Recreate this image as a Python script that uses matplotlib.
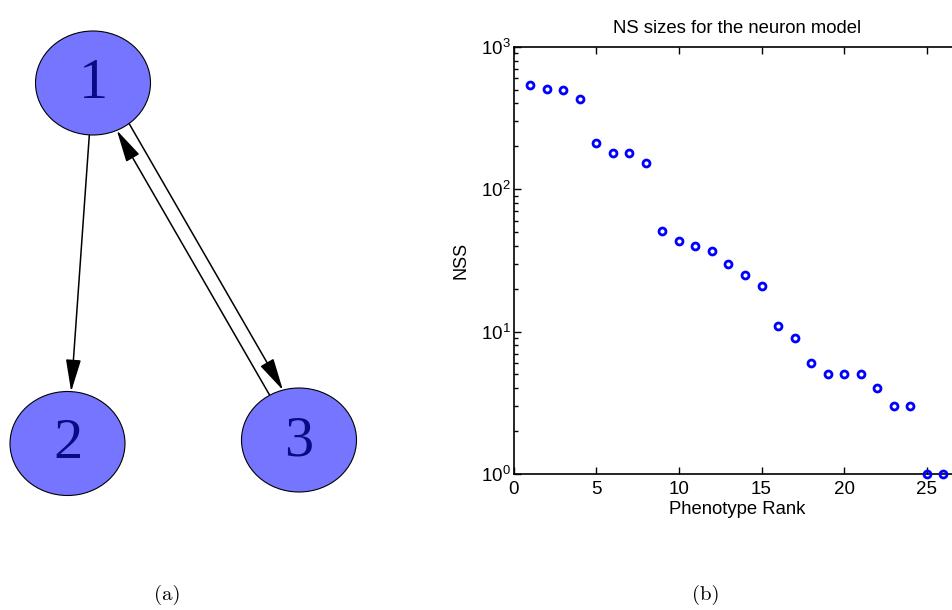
import matplotlib
matplotlib.use('Agg')
import matplotlib.pyplot as plt
import numpy as np
from matplotlib.patches import Ellipse, FancyArrowPatch

plt.rcParams['font.family'] = ['Liberation Sans', 'DejaVu Sans']

# network graph: nodes and directed edges
node_labels = ['1', '2', '3']
edges = [(1, 2), (3, 1), (1, 3)]

# neutral set sizes by phenotype rank
rank = list(range(1, 27))
nss = [537, 505, 497, 430, 210, 179, 178, 152,
       51, 43, 40, 37, 30, 25, 21,
       11, 9, 6, 5, 5, 5, 4, 3, 3, 1, 1]

W, H = 952, 610
fig = plt.figure(figsize=(W / 100, H / 100), dpi=100)

# --- (a) graph, drawn in pixel units ---
gax = fig.add_axes([0, 0, 1, 1])
gax.set_xlim(0, W)
gax.set_ylim(H, 0)
gax.axis('off')

node_pos = {1: (93, 83), 2: (67.5, 443.5), 3: (299, 440)}
node_w, node_h = 115, 104
edge_offset = {(1, 2): 0, (1, 3): 11, (3, 1): 3}


def ellipse_hits(c, p, u):
    # parameters t where p + t*u crosses the node ellipse centred at c
    a, b = node_w / 2, node_h / 2
    dx, dy = p[0] - c[0], p[1] - c[1]
    A = (u[0] / a) ** 2 + (u[1] / b) ** 2
    B = 2 * (dx * u[0] / a ** 2 + dy * u[1] / b ** 2)
    C = (dx / a) ** 2 + (dy / b) ** 2 - 1
    disc = np.sqrt(B ** 2 - 4 * A * C)
    return (-B - disc) / (2 * A), (-B + disc) / (2 * A)


for src, dst in edges:
    c0 = np.array(node_pos[src])
    c1 = np.array(node_pos[dst])
    u = (c1 - c0) / np.hypot(*(c1 - c0))
    perp = np.array([u[1], -u[0]])
    p = c0 + edge_offset[(src, dst)] * perp
    t_start = ellipse_hits(c0, p, u)[1]
    t_end = ellipse_hits(c1, p, u)[0]
    arrow = FancyArrowPatch(tuple(p + t_start * u), tuple(p + t_end * u),
                            arrowstyle='-|>,head_length=20,head_width=4.7',
                            mutation_scale=1, lw=1.1, color='k',
                            shrinkA=0, shrinkB=0, zorder=2)
    gax.add_patch(arrow)

for i, lab in enumerate(node_labels, start=1):
    x, y = node_pos[i]
    gax.add_patch(Ellipse((x, y), node_w, node_h, fc='#7575ff', ec='k',
                          lw=0.8, zorder=3))
    gax.text(x, y + 1, lab, ha='center', va='center', fontsize=42,
             family='Liberation Serif', color='#0a0a85', zorder=4)

# --- (b) NS sizes ---
ax = fig.add_axes([513.5 / W, 136 / H, 446.5 / W, 427.3 / H])
ax.semilogy(rank, nss, 'o', mfc='none', mec='b', ms=5, mew=2,
            clip_on=False, zorder=5)
ax.set_xlim(0, 27)
ax.set_ylim(1, 1000)
ax.set_xticks([0, 5, 10, 15, 20, 25])
ax.tick_params(which='both', direction='in', top=True, right=True,
               width=1, labelsize=13.5)
ax.tick_params(which='major', length=5)
ax.tick_params(which='minor', length=3)
ax.tick_params(axis='x', pad=5)
ax.tick_params(axis='y', pad=2)
for s in ax.spines.values():
    s.set_linewidth(1.2)
ax.set_title('NS sizes for the neuron model', fontsize=13.3, pad=10)
ax.set_xlabel('Phenotype Rank', fontsize=13.3, labelpad=2)
ax.set_ylabel('NSS', fontsize=13, labelpad=8)

fig.text(167 / W, 1 - 595 / H, '(a)', ha='center', va='center',
         family='cmr10', fontsize=15)
fig.text(706 / W, 1 - 595 / H, '(b)', ha='center', va='center',
         family='cmr10', fontsize=15)

fig.savefig('out.png', dpi=100)
plt.close(fig)
